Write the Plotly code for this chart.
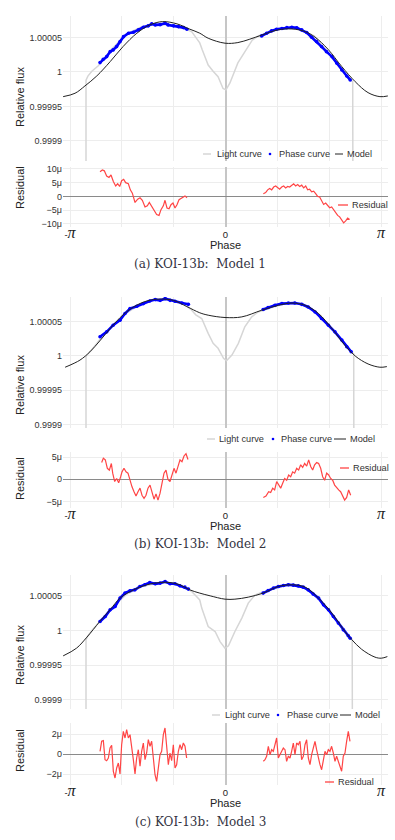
import numpy as np
import plotly.graph_objects as go

# ------------------------------------------------------------------
# DATA  (phase in radians; flux given as (relative flux - 1) in ppm;
#        residuals in ppm)
# ------------------------------------------------------------------
# ---- (a) Model 1 ----
model_phase_a = [-3.28, -3.04, -2.84, -2.60, -2.33, -2.07, -1.79, -1.53, -1.27, -0.98, -0.72, -0.52,
                 -0.35, -0.01, 0.25, 0.49, 0.74, 1.06, 1.34, 1.61, 1.81, 2.07, 2.35, 2.62, 2.88, 3.12, 3.28]
model_ppm_a = [-35.8, -30.9, -20.3, -5.8, 14.9, 36.7, 56.1, 68.1, 72.9, 69.6, 61.9, 56.1,
               48.8, 41.6, 42.5, 47.4, 53.6, 60.9, 62.3, 58.4, 50.3, 32.9, 7.7, -14.1, -30.0, -35.8, -34.8]
light_phase_a = [-2.82, -2.818, -2.78, -2.70, -2.57, -2.30, -2.00, -1.70, -1.40, -1.10, -0.85, -0.68,
                 -0.60, -0.52, -0.47, -0.35, -0.25, -0.15, -0.05, 0.01, 0.09, 0.25, 0.39, 0.54, 0.66,
                 0.90, 1.20, 1.50, 1.80, 2.10, 2.35, 2.50, 2.57, 2.58]
light_ppm_a = [-400, -12, -6, 1, 9, 33, 55, 65, 69, 68, 64, 58,
               50, 42, 32, 10, 1, -7, -24, -26, -16, 13, 29, 46, 52,
               58, 63, 62, 52, 26, 4, -10, -14, -400]
phase_l_phase_a = [-2.535, -2.47, -2.40, -2.33, -2.27, -2.20, -2.13, -2.06, -1.96, -1.86, -1.76,
                   -1.66, -1.56, -1.49, -1.42, -1.32, -1.22, -1.16, -1.05, -0.95, -0.85, -0.78]
phase_l_ppm_a = [13.5, 18.4, 22.2, 29.4, 31.9, 36.7, 43.9, 51.1, 56.1, 57.5, 60.9,
                 64.8, 66.7, 69.6, 68.1, 68.5, 70.6, 68.1, 66.7, 65.6, 64.2, 61.9]
phase_r_phase_a = [0.73, 0.83, 0.93, 1.03, 1.14, 1.24, 1.34, 1.44, 1.54, 1.64, 1.74, 1.84, 1.94,
                   2.04, 2.15, 2.25, 2.35, 2.45, 2.52]
phase_r_ppm_a = [52.2, 56.1, 59.4, 61.9, 62.8, 64.2, 64.8, 63.8, 60.9, 57.0, 50.3, 43.9, 36.7,
                 29.4, 22.2, 12.6, 2.9, -5.8, -11.6]
res_l_phase_a = [-2.535, -2.488, -2.448, -2.401, -2.354, -2.313, -2.266, -2.219, -2.178, -2.138, -2.098,
                 -2.057, -2.017, -1.963, -1.923, -1.882, -1.828, -1.774, -1.727, -1.680, -1.626, -1.579,
                 -1.539, -1.492, -1.444, -1.391, -1.343, -1.303, -1.256, -1.222, -1.182, -1.141, -1.101,
                 -1.061, -1.020, -0.980, -0.939, -0.899, -0.859, -0.818, -0.778]
res_l_ppm_a = [9.0, 9.6, 9.3, 7.4, 6.9, 7.8, 5.4, 3.8, 4.6, 3.6, 5.7,
               6.2, 5.0, 4.6, 2.4, 1.2, -2.2, -1.0, -0.5, -1.4, -3.8, -3.4,
               -2.2, -3.6, -5.0, -6.6, -6.9, -4.8, -3.4, -1.4, -4.2, -4.5, -3.0,
               -2.4, -4.2, -3.0, -1.2, -0.7, -0.2, 0.2, -0.5]
res_r_phase_a = [0.764, 0.811, 0.852, 0.892, 0.933, 0.973, 1.014, 1.054, 1.094, 1.135, 1.175,
                 1.216, 1.256, 1.296, 1.337, 1.377, 1.418, 1.458, 1.498, 1.539, 1.579, 1.620,
                 1.660, 1.700, 1.741, 1.781, 1.822, 1.862, 1.902, 1.943, 1.983, 2.024, 2.064,
                 2.104, 2.145, 2.185, 2.226, 2.266, 2.306, 2.347, 2.387, 2.428, 2.468, 2.508]
res_r_ppm_a = [1.0, 1.4, 2.4, 2.9, 2.4, 3.4, 3.8, 3.1, 2.6, 3.4, 3.8,
               3.1, 3.6, 3.4, 4.1, 4.6, 3.8, 4.3, 3.6, 4.1, 3.1, 3.8,
               2.4, 2.6, 1.7, 1.9, 1.0, 0.0, -0.2, -1.4, -2.9, -2.4, -3.4,
               -4.1, -3.8, -4.8, -6.0, -6.9, -7.4, -8.6, -9.6, -8.9, -7.9, -8.4]

# ---- (b) Model 2 ----
model_phase_b = [-3.24, -2.94, -2.74, -2.54, -2.33, -2.13, -1.86, -1.59, -1.32, -1.05, -0.78, -0.52,
                 -0.35, -0.01, 0.33, 0.73, 1.07, 1.34, 1.61, 1.88, 2.15, 2.41, 2.62, 2.88, 3.12, 3.26]
model_ppm_b = [-16.4, -6.0, 6.0, 22.0, 40.0, 56.0, 71.4, 80.2, 83.0, 81.1, 72.0, 63.0,
               59.5, 56.1, 57.0, 66.7, 73.9, 77.2, 73.9, 61.9, 40.1, 15.9, 0.0, -11.6, -16.4, -15.5]
light_phase_b = [-2.82, -2.818, -2.79, -2.70, -2.54, -2.30, -2.00, -1.70, -1.40, -1.10, -0.85, -0.70,
                 -0.60, -0.48, -0.35, -0.25, -0.15, -0.04, 0.02, 0.13, 0.26, 0.39, 0.53, 0.66,
                 0.90, 1.20, 1.50, 1.80, 2.10, 2.35, 2.54, 2.59, 2.60]
light_ppm_b = [-400, -1, 2, 9, 24, 43, 63, 76, 82, 82, 76, 68,
               60, 54.6, 32.9, 18.4, 11.2, -3.4, -6.8, 1.4, 18.4, 42.5, 57.0, 64.2,
               70, 76, 76, 66, 45, 21, 6, 3, -400]
phase_l_phase_b = [-2.535, -2.40, -2.27, -2.13, -2.03, -1.93, -1.79, -1.66, -1.53, -1.42, -1.32,
                   -1.22, -1.12, -1.02, -0.88, -0.75]
phase_l_ppm_b = [28.0, 35.2, 44.9, 52.2, 61.9, 69.1, 72.5, 76.4, 80.2, 82.2, 81.1,
                 83.6, 81.1, 79.7, 77.2, 75.3]
phase_r_phase_b = [0.76, 0.86, 1.00, 1.14, 1.27, 1.40, 1.54, 1.67, 1.81, 1.94, 2.08, 2.21, 2.35,
                   2.45, 2.54]
phase_r_ppm_b = [67.7, 70.6, 73.9, 76.4, 77.2, 77.2, 75.3, 71.4, 64.2, 54.6, 44.9, 35.2, 23.2,
                 13.5, 6.2]
res_l_phase_b = [-2.502, -2.468, -2.428, -2.387, -2.347, -2.306, -2.279, -2.239, -2.199, -2.158, -2.118,
                 -2.091, -2.051, -2.010, -1.970, -1.929, -1.889, -1.848, -1.808, -1.768, -1.727, -1.687,
                 -1.646, -1.606, -1.566, -1.525, -1.485, -1.444, -1.404, -1.364, -1.323, -1.283, -1.242,
                 -1.202, -1.162, -1.121, -1.081, -1.040, -1.000, -0.960, -0.919, -0.879, -0.838, -0.798,
                 -0.758]
res_l_ppm_b = [3.8, 4.8, 4.4, 2.5, 2.1, 3.6, 1.4, -0.5, 0.2, -0.8, 0.6,
               1.7, 2.5, 1.7, 1.4, -0.5, -1.7, -2.8, -3.8, -2.8, -2.0, -3.6,
               -4.3, -3.6, -2.0, -1.3, -2.8, -4.5, -3.3, -4.7, -3.2, -0.5, 1.4,
               2.1, 0.0, -0.5, 1.0, 2.5, 1.4, 2.9, 4.4, 4.0, 5.3, 5.8,
               4.5]
res_r_phase_b = [0.764, 0.818, 0.872, 0.913, 0.953, 0.993, 1.034, 1.074, 1.115, 1.155, 1.195,
                 1.236, 1.276, 1.317, 1.357, 1.397, 1.438, 1.478, 1.519, 1.559, 1.599, 1.640,
                 1.680, 1.721, 1.761, 1.801, 1.842, 1.882, 1.923, 1.963, 2.003, 2.044, 2.084,
                 2.125, 2.165, 2.205, 2.246, 2.286, 2.326, 2.367, 2.407, 2.448, 2.488, 2.529]
res_r_ppm_b = [-4.1, -3.8, -2.8, -3.0, -2.0, -2.4, -0.5, -1.3, -2.0, -0.9, 0.2,
               -0.2, 1.0, 0.6, 1.7, 1.4, 2.5, 2.1, 3.3, 2.7, 3.6, 3.0,
               4.4, 2.9, 2.1, 3.3, 3.8, 3.6, 2.5, 0.6, -0.2, 1.4, 1.0,
               0.2, -0.2, -1.3, -2.0, -2.4, -2.8, -3.6, -4.7, -4.1, -2.4, -3.6]

# ---- (c) Model 3 ----
model_phase_c = [-3.28, -3.01, -2.80, -2.54, -2.33, -2.13, -1.86, -1.59, -1.32, -1.12, -0.92, -0.72,
                 -0.52, -0.31, -0.01, 0.19, 0.46, 0.76, 1.07, 1.34, 1.61, 1.88, 2.15, 2.42, 2.55,
                 2.75, 3.02, 3.15, 3.27]
model_ppm_c = [-36.5, -25.4, -9.5, 13.0, 30.0, 46.7, 58.6, 65.9, 69.2, 69.2, 65.9, 58.6,
               53.9, 50.0, 45.2, 45.2, 48.1, 53.9, 63.4, 65.9, 62.5, 46.7, 25.0, -2.0, -13.0,
               -27.0, -38.3, -39.8, -37.5]
light_phase_c = [-2.82, -2.818, -2.79, -2.70, -2.54, -2.30, -2.00, -1.70, -1.40, -1.10, -0.85, -0.68,
                 -0.60, -0.52, -0.48, -0.35, -0.21, -0.11, -0.01, 0.06, 0.19, 0.33, 0.46, 0.60, 0.70,
                 0.90, 1.20, 1.50, 1.80, 2.10, 2.35, 2.52, 2.56, 2.57]
light_ppm_c = [-400, -13.4, -9, 0, 13, 33, 52, 63, 68, 68, 63, 56,
               50, 44, 32.3, 5.8, -1.4, -15.9, -25.4, -22, -1.4, 17.9, 39.5, 51.4, 54,
               58, 65, 65, 52, 28, 4, -11, -14, -400]
phase_l_phase_c = [-2.535, -2.43, -2.33, -2.23, -2.13, -2.03, -1.93, -1.83, -1.73, -1.63, -1.53,
                   -1.42, -1.32, -1.22, -1.12, -1.02, -0.92, -0.82, -0.75]
phase_l_ppm_c = [13.0, 20.2, 29.8, 34.6, 46.7, 53.9, 57.2, 58.6, 63.4, 65.9, 69.2,
                 67.3, 68.3, 70.6, 67.3, 67.3, 64.4, 62.5, 59.7]
phase_r_phase_c = [0.76, 0.86, 0.97, 1.07, 1.17, 1.27, 1.37, 1.47, 1.57, 1.67, 1.77, 1.88, 1.98,
                   2.08, 2.18, 2.28, 2.38, 2.48, 2.52]
phase_r_ppm_c = [53.9, 57.6, 61.1, 63.4, 64.8, 65.9, 65.4, 64.4, 62.5, 58.6, 52.5, 46.7, 37.0,
                 29.8, 20.2, 10.7, 1.0, -7.6, -11.0]
res_l_phase_c = [-2.535, -2.502, -2.468, -2.434, -2.401, -2.367, -2.333, -2.300, -2.266, -2.232,
                 -2.199, -2.165, -2.131, -2.098, -2.064, -2.030, -1.997, -1.963, -1.929, -1.896,
                 -1.862, -1.828, -1.795, -1.761, -1.727, -1.694, -1.660, -1.626, -1.593, -1.559,
                 -1.525, -1.492, -1.458, -1.424, -1.391, -1.357, -1.323, -1.290, -1.256, -1.222,
                 -1.189, -1.155, -1.121, -1.088, -1.054, -1.020, -0.987, -0.953, -0.919, -0.886,
                 -0.852, -0.818, -0.785]
res_l_ppm_c = [0.27, 1.27, 1.33, -0.57, -0.67, -0.4, 0.6, 0.87, -1.73, -2.4,
               -1.4, -0.9, -2.0, 0.93, 2.27, 1.6, 2.43, 1.6, 1.93, 0.93,
               -0.57, -2.0, -0.4, 0.43, -1.23, 0.27, 1.1, -0.57, 0.1, 1.43,
               0.77, 1.27, -0.73, -2.07, -2.73, -1.07, -0.07, 0.27, 1.93, 2.6,
               0.6, -1.07, 0.1, -0.67, 0.93, -1.4, -1.07, 0.27, 0.93, 0.43,
               1.1, 0.77, -0.4]
res_r_phase_c = [0.764, 0.798, 0.831, 0.865, 0.899, 0.932, 0.966, 1.000, 1.033, 1.067,
                 1.101, 1.134, 1.168, 1.202, 1.235, 1.269, 1.303, 1.336, 1.370, 1.404,
                 1.437, 1.471, 1.505, 1.538, 1.572, 1.606, 1.639, 1.673, 1.707, 1.740,
                 1.774, 1.808, 1.841, 1.875, 1.909, 1.942, 1.976, 2.010, 2.043, 2.077,
                 2.111, 2.144, 2.178, 2.212, 2.245, 2.279, 2.313, 2.346, 2.380, 2.414,
                 2.447, 2.481, 2.515]
res_r_ppm_c = [-0.73, -0.57, -0.23, 0.77, -0.07, 0.43, 0.27, 1.1, 1.6, -0.4,
               -0.07, 0.27, 0.6, 0.43, -0.73, -0.23, -0.4, 0.27, 1.1, -0.07,
               1.1, 0.93, 1.27, -0.57, -0.23, 0.93, 1.43, -0.4, -1.07, -0.07,
               0.77, 1.27, 0.43, -0.4, -1.07, -1.57, -0.57, 0.27, -0.07, 0.43,
               0.27, 0.77, 0.1, -0.73, -0.23, -0.73, -1.23, -1.73, -0.23, 0.1,
               1.27, 2.27, 1.27]

captions = ["(a) KOI-13b:  Model 1", "(b) KOI-13b:  Model 2", "(c) KOI-13b:  Model 3"]
x_tick_labels = ["-π", "", "", "0", "", "", "π"]
legend_names = ["Light curve", "Phase curve", "Model"]
residual_name = "Residual"

# ------------------------------------------------------------------
# FIGURE
# ------------------------------------------------------------------
W, H = 395, 840
SANS = "Liberation Sans, Arial, sans-serif"
SERIF = "DejaVu Serif, serif"
GRID = "#ededed"
C_LIGHT = "#d6d6d6"
C_PHASE = "#0000ff"
C_MODEL = "#222222"
C_RES = "#ff4545"


def py(p):
    return 1 - p / H


def px(p):
    return p / W


def flux(ppm):
    return [None if v is None else 1 + v * 1e-6 for v in ppm]


def micro(vals):
    return [None if v is None else v * 1e-6 for v in vals]


def join(a, b):
    return list(a) + [None] + list(b)


X_DOMAIN = [px(63), px(388)]
X_RANGE = [-3.283, 3.283]
GRID_TICKS = [-np.pi, -2 * np.pi / 3, -np.pi / 3, 0, np.pi / 3, 2 * np.pi / 3, np.pi]
PI_SPAN = '<span style="font-family:Liberation Serif;font-size:16px;font-style:italic">π</span>'
tick_text = []
for t in x_tick_labels:
    tick_text.append(t.replace("π", PI_SPAN))

panels = [
    dict(model=(model_phase_a, model_ppm_a), light=(light_phase_a, light_ppm_a),
         pl=(phase_l_phase_a, phase_l_ppm_a), pr=(phase_r_phase_a, phase_r_ppm_a),
         rl=(res_l_phase_a, res_l_ppm_a), rr=(res_r_phase_a, res_r_ppm_a),
         main=(16, 161), mr=(-129, 81), res=(166.7, 227), rr_rng=(-11.1, 10.8), rdt=5e-6,
         yt_main=97, yt_res=188, leg=(154, 203, 215, 270, 277, 335, 345),
         rleg=(205, 338, 350), cap=264),
    dict(model=(model_phase_b, model_ppm_b), light=(light_phase_b, light_ppm_b),
         pl=(phase_l_phase_b, phase_l_ppm_b), pr=(phase_r_phase_b, phase_r_ppm_b),
         rl=(res_l_phase_b, res_l_ppm_b), rr=(res_r_phase_b, res_r_ppm_b),
         main=(297, 428), mr=(-105, 86), res=(452, 508), rr_rng=(-6.5, 6.2), rdt=5e-6,
         yt_main=385, yt_res=479, leg=(439, 207, 217, 273, 279, 334, 348),
         rleg=(468, 340, 351), cap=544),
    dict(model=(model_phase_c, model_ppm_c), light=(light_phase_c, light_ppm_c),
         pl=(phase_l_phase_c, phase_l_ppm_c), pr=(phase_r_phase_c, phase_r_ppm_c),
         rl=(res_l_phase_c, res_l_ppm_c), rr=(res_r_phase_c, res_r_ppm_c),
         main=(575, 709), mr=(-113, 80), res=(723, 785), rr_rng=(-3.1, 3.1), rdt=2e-6,
         yt_main=655, yt_res=751, leg=(715, 212, 223, 278, 285, 340, 353),
         rleg=(782, 325, 336), cap=822),
]

fig = go.Figure()
layout = dict(
    width=W, height=H, margin=dict(l=0, r=0, t=0, b=0),
    paper_bgcolor="white", plot_bgcolor="white", showlegend=False,
    font=dict(family=SANS, size=9, color="#333"),
)
annotations = []
shapes = []

for i, p in enumerate(panels):
    mi, ri = 2 * i + 1, 2 * i + 2
    mx, my = ("x" if mi == 1 else f"x{mi}"), ("y" if mi == 1 else f"y{mi}")
    rx, ry = f"x{ri}", f"y{ri}"

    # --- main panel traces ---
    fig.add_trace(go.Scatter(x=p["light"][0], y=flux(p["light"][1]), mode="lines",
                             line=dict(color=C_LIGHT, width=1.5), name=legend_names[0],
                             xaxis=mx, yaxis=my, hoverinfo="skip"))
    ph_x = join(p["pl"][0], p["pr"][0])
    ph_y = flux(join(p["pl"][1], p["pr"][1]))
    fig.add_trace(go.Scatter(x=ph_x, y=ph_y, mode="lines+markers",
                             line=dict(color=C_PHASE, width=2.6),
                             marker=dict(color=C_PHASE, size=3.6),
                             name=legend_names[1], xaxis=mx, yaxis=my))
    fig.add_trace(go.Scatter(x=p["model"][0], y=flux(p["model"][1]), mode="lines",
                             line=dict(color=C_MODEL, width=1, shape="spline", smoothing=1.0),
                             name=legend_names[2], xaxis=mx, yaxis=my))
    # --- residual traces ---
    fig.add_trace(go.Scatter(x=join(p["rl"][0], p["rr"][0]),
                             y=micro(join(p["rl"][1], p["rr"][1])), mode="lines",
                             line=dict(color=C_RES, width=1.2), name=residual_name,
                             xaxis=rx, yaxis=ry))

    xcommon = dict(domain=X_DOMAIN, range=X_RANGE, tickmode="array", tickvals=GRID_TICKS,
                   gridcolor=GRID, gridwidth=1, zeroline=True, zerolinecolor="#c6c6c6",
                   zerolinewidth=2, showline=False, ticks="", automargin=False)
    layout["xaxis" if mi == 1 else f"xaxis{mi}"] = dict(xcommon, showticklabels=False,
                                                       anchor=my)
    layout[f"xaxis{ri}"] = dict(xcommon, ticktext=tick_text, showticklabels=True, anchor=ry,
                                tickfont=dict(size=9.5, color="#222"),
                                title=dict(text="Phase", font=dict(size=11, color="#222"),
                                           standoff=0))
    top, bot = p["main"]
    layout["yaxis" if mi == 1 else f"yaxis{mi}"] = dict(
        domain=[py(bot), py(top)], range=[1 + p["mr"][0] * 1e-6, 1 + p["mr"][1] * 1e-6],
        tickmode="linear", tick0=1, dtick=5e-5, gridcolor=GRID, zeroline=False,
        showline=False, ticks="", anchor=mx, automargin=False,
        tickfont=dict(size=9, color="#333"))
    rtop, rbot = p["res"]
    layout[f"yaxis{ri}"] = dict(
        domain=[py(rbot), py(rtop)], range=[p["rr_rng"][0] * 1e-6, p["rr_rng"][1] * 1e-6],
        tickmode="linear", tick0=0, dtick=p["rdt"], gridcolor=GRID, zeroline=True,
        zerolinecolor="#8a8a8a", zerolinewidth=1, showline=False, ticks="", anchor=rx,
        automargin=False, tickfont=dict(size=9, color="#333"))

    # --- y titles ---
    annotations.append(dict(text="Relative flux", x=px(20), y=py(p["yt_main"]), xref="paper",
                            yref="paper", textangle=-90, showarrow=False,
                            xanchor="center", yanchor="middle",
                            font=dict(size=11, color="#222", family=SANS)))
    annotations.append(dict(text="Residual", x=px(20), y=py(p["yt_res"]), xref="paper",
                            yref="paper", textangle=-90, showarrow=False,
                            xanchor="center", yanchor="middle",
                            font=dict(size=11, color="#222", family=SANS)))

    # --- compact legends ---
    ly, gx, gtx, dx, ptx, mxl, mtx = p["leg"]
    shapes.append(dict(type="line", xref="paper", yref="paper", x0=px(gx), x1=px(gx + 8),
                       y0=py(ly), y1=py(ly), line=dict(color=C_LIGHT, width=1.5)))
    shapes.append(dict(type="circle", xref="paper", yref="paper", x0=px(dx - 1.3),
                       x1=px(dx + 1.3), y0=py(ly + 1.3), y1=py(ly - 1.3),
                       fillcolor=C_PHASE, line=dict(width=0)))
    shapes.append(dict(type="line", xref="paper", yref="paper", x0=px(mxl), x1=px(mtx - 2),
                       y0=py(ly), y1=py(ly), line=dict(color=C_MODEL, width=1)))
    for tx, name in ((gtx, legend_names[0]), (ptx, legend_names[1]), (mtx, legend_names[2])):
        annotations.append(dict(text=name, x=px(tx), y=py(ly), xref="paper", yref="paper",
                                xanchor="left", yanchor="middle", showarrow=False,
                                font=dict(size=9.2, color="#333", family=SANS)))
    rly, rlx, rtx = p["rleg"]
    shapes.append(dict(type="line", xref="paper", yref="paper", x0=px(rlx), x1=px(rtx - 2),
                       y0=py(rly), y1=py(rly), line=dict(color=C_RES, width=1.3)))
    annotations.append(dict(text=residual_name, x=px(rtx), y=py(rly), xref="paper",
                            yref="paper", xanchor="left", yanchor="middle", showarrow=False,
                            font=dict(size=9.2, color="#333", family=SANS)))

    # --- caption ---
    annotations.append(dict(text=captions[i], x=px(200), y=py(p["cap"]), xref="paper",
                            yref="paper", xanchor="center", yanchor="middle", showarrow=False,
                            font=dict(size=12, color="#33333f", family=SERIF)))

layout["annotations"] = annotations
layout["shapes"] = shapes
fig.update_layout(**layout)
fig.write_html("out.html", config={"displayModeBar": False},
               post_script="document.body.style.margin='0';document.body.style.overflow='hidden';")
